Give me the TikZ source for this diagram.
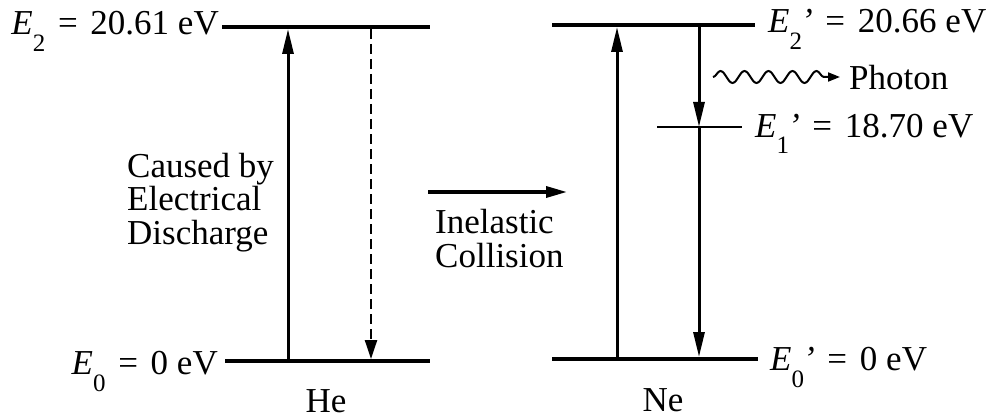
\documentclass[tikz,border=0pt]{standalone}
\usepackage{fontspec}
\setmainfont{Liberation Serif}
\usetikzlibrary{arrows.meta,decorations.pathmorphing}
\newcommand\subsz{\fontsize{25}{25}\selectfont}
\newcommand\Eu[1]{\textit{E}\raisebox{-17pt}{\subsz #1}}
\newcommand\Ep[1]{\textit{E}\raisebox{-17pt}{\subsz #1}\kern-1pt\textit{’}}
\newcommand\eqs{\kern4pt{} = {}\kern4pt}
\tikzset{
  level/.style={line width=4.5pt},
  trans/.style={line width=3pt,-{Triangle[length=25pt,width=11pt]}},
  dtrans/.style={line width=2.4pt,dash pattern=on 10pt off 5pt,-{Triangle[length=19pt,width=12pt]}},
  push/.style={line width=3.4pt,-{Triangle[length=21pt,width=11pt]}},
  wave/.style={line width=2pt,-{Triangle[length=12pt,width=9pt]},decorate,
    decoration={snake,segment length=24pt,amplitude=6pt,post length=16pt}},
  lbl/.style={inner sep=0pt,font=\fontsize{35}{33.5}\selectfont},
}
\begin{document}
\begin{tikzpicture}[x=1pt,y=-1pt]
\useasboundingbox (0,0) rectangle (989,420);
% He levels
\coordinate (heTL) at (222,27);  \coordinate (heTR) at (430,27);
\coordinate (heBL) at (225,361); \coordinate (heBR) at (430,361);
\draw[level] (heTL) -- (heTR);
\draw[level] (heBL) -- (heBR);
\coordinate (heUp0) at (288,359); \coordinate (heUp1) at (288,29);
\draw[trans] (heUp0) -- (heUp1);
\coordinate (heDn0) at (371,29); \coordinate (heDn1) at (371,359);
\draw[dtrans] (heDn0) -- (heDn1);
% Ne levels
\coordinate (neTL) at (552,25);  \coordinate (neTR) at (755,25);
\coordinate (neML) at (657,127); \coordinate (neMR) at (742,127);
\coordinate (neBL) at (552,359); \coordinate (neBR) at (758,359);
\draw[level] (neTL) -- (neTR);
\draw[line width=2.4pt] (neML) -- (neMR);
\draw[level] (neBL) -- (neBR);
\coordinate (neUp0) at (617,357); \coordinate (neUp1) at (617,27);
\draw[trans] (neUp0) -- (neUp1);
\coordinate (neDn0) at (699,27); \coordinate (neDn1) at (699,127); \coordinate (neDn2) at (699,357);
\draw[trans] (neDn0) -- (neDn1);
\draw[trans] (neDn1) -- (neDn2);
% collision arrow
\coordinate (col0) at (428,192); \coordinate (col1) at (567,192);
\draw[push] (col0) -- (col1);
% photon
\coordinate (ph0) at (713,77); \coordinate (ph1) at (840,77);
\draw[wave] (ph0) -- (ph1);
% labels
\node[lbl,anchor=base east] (lE2) at (219,35) {\Eu{2}\eqs20.61 eV};
\node[lbl,anchor=base east] (lE0) at (218,374) {\Eu{0}\eqs0 eV};
\node[lbl,anchor=base west] (lE2p) at (768,33) {\Ep{2}\eqs20.66 eV};
\node[lbl,anchor=base west] (lE1p) at (755,137) {\Ep{1}\eqs18.70 eV};
\node[lbl,anchor=base west] (lE0p) at (770,370) {\Ep{0}\eqs0 eV};
\node[lbl,anchor=base west] (lph) at (849,90) {Photon};
\node[lbl,anchor=base west,align=left] (lcause) at (127,244) {Caused by\\Electrical\\Discharge};
\node[lbl,anchor=base west,align=left,font=\fontsize{35}{34}\selectfont] (linel) at (435,267) {Inelastic\\Collision};
\node[lbl,anchor=base] (lHe) at (326,412) {He};
\node[lbl,anchor=base] (lNe) at (663,411) {Ne};
\end{tikzpicture}
\end{document}
